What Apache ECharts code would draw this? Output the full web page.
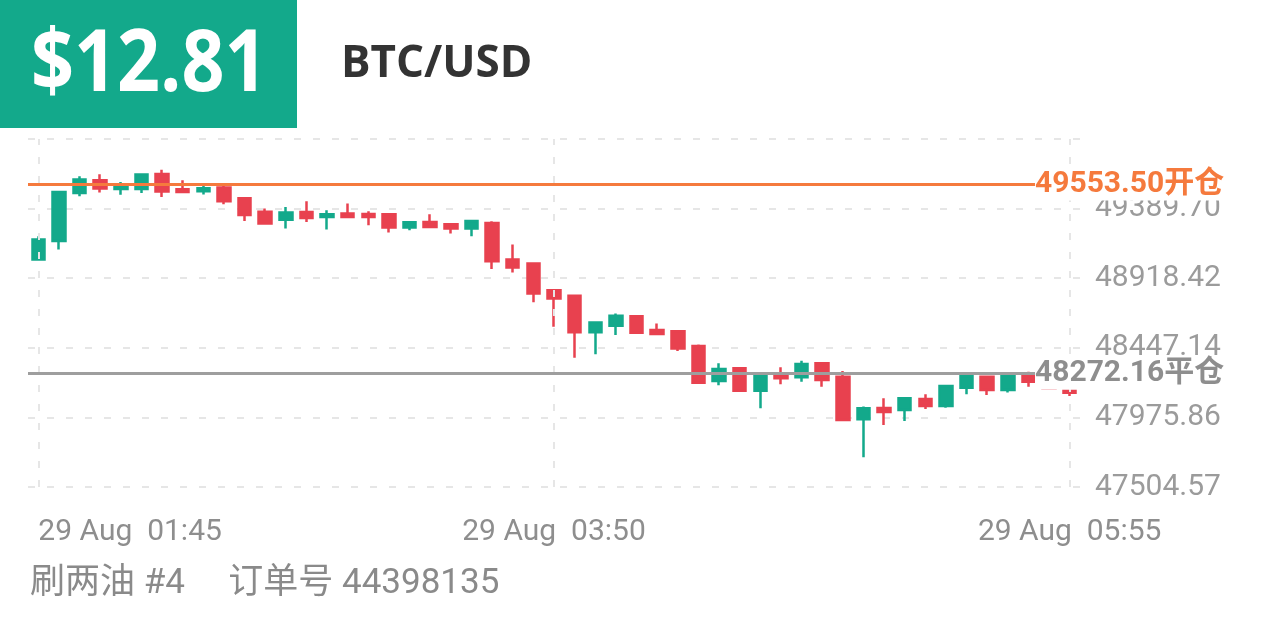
<!DOCTYPE html>
<html>
<head>
<meta charset="utf-8">
<script src="https://cdn.jsdelivr.net/npm/echarts@6/dist/echarts.min.js"></script>
<style>
html,body{margin:0;padding:0;background:#fff;}
#chart{width:1266px;height:633px;}
</style>
</head>
<body>
<div id="chart"></div>
<script>
// ---- data ----
const times = ["01:45","01:50","01:55","02:00","02:05","02:10","02:15","02:20","02:25","02:30",
  "02:35","02:40","02:45","02:50","02:55","03:00","03:05","03:10","03:15","03:20",
  "03:25","03:30","03:35","03:40","03:45","03:50","03:55","04:00","04:05","04:10",
  "04:15","04:20","04:25","04:30","04:35","04:40","04:45","04:50","04:55","05:00",
  "05:05","05:10","05:15","05:20","05:25","05:30","05:35","05:40","05:45","05:50","05:55"];
const dateLabel = "29 Aug";
const opens  = [49045,49171,49495,49581,49522,49522,49624,49520,49507,49532,
  49459,49369,49315,49367,49333,49356,49353,49351,49261,49299,
  49284,49255,49292,49045,49018,48837,48799,48552,48596,48660,
  48567,48560,48459,48222,48308,48157,48270,48247,48342,48251,
  47963,48040,48026,48101,48053,48177,48251,48161,48263,48172,48170];
const closes = [49180,49502,49586,49525,49540,49620,49505,49502,49527,49439,
  49346,49288,49363,49326,49351,49333,49333,49261,49297,49265,
  49255,49306,49033,48991,48815,48781,48552,48619,48664,48549,
  48540,48443,48211,48303,48157,48256,48241,48337,48229,47959,
  48038,48013,48105,48053,48189,48256,48161,48263,48218,48170,48143];
const lows   = [49043,49113,49473,49498,49484,49495,49468,49495,49486,49419,
  49306,49282,49255,49299,49248,49329,49277,49228,49243,49265,
  49221,49202,48981,48957,48756,48589,48380,48403,48533,48545,
  48533,48425,48211,48193,48157,48038,48200,48218,48184,47959,
  47706,47925,47952,48033,48042,48132,48128,48145,48184,48168,48121];
const highs  = [49202,49502,49608,49622,49570,49620,49653,49581,49559,49547,
  49468,49390,49401,49439,49378,49424,49371,49351,49302,49351,
  49292,49311,49304,49146,49018,48840,48804,48623,48680,48660,
  48612,48567,48470,48342,48312,48256,48315,48360,48342,48290,
  48049,48105,48105,48132,48189,48256,48256,48268,48285,48174,48172];
const yTicks = [47504.57, 47975.86, 48447.14, 48918.42, 49389.70, 49860.98];
const yLabels = [47504.57, 47975.86, 48447.14, 48918.42, 49389.70];
const openPrice = 49553.50, openText = "开仓";
const closePrice = 48272.16, closeText = "平仓";
const timeLabelIdx = [0, 25, 50];
const profitText = "$12.81";
const symbolText = "BTC/USD";
const footerText = "刷两油 #4     订单号 44398135";

// ---- build ----
const cats = times.map(t => dateLabel + "  " + t);
const ohlc = opens.map((o, i) => [o, closes[i], lows[i], highs[i]]);
const UP = '#13a98b', DOWN = '#e8414f';
const gridColor = '#e6e6e6';

const markData = [
  ...timeLabelIdx.map(i => ({
    xAxis: cats[i],
    lineStyle: {color: gridColor, type: [7, 12], width: 2},
    label: {show: false}
  })),
  {
    yAxis: openPrice,
    lineStyle: {color: '#f57a3d', width: 3, type: 'solid'},
    label: {show: true, position: 'end', distance: -45, formatter: openPrice.toFixed(2) + openText,
      color: '#f57a3d', fontWeight: 'bold', fontSize: 30, fontFamily: 'Roboto, "Noto Sans CJK SC"',
      backgroundColor: '#fff', padding: [1, 2, 1, 0]}
  },
  {
    yAxis: closePrice,
    lineStyle: {color: '#9e9e9e', width: 3, type: 'solid'},
    label: {show: true, position: 'end', distance: -45, formatter: closePrice.toFixed(2) + closeText,
      color: '#8e8e8e', fontWeight: 'bold', fontSize: 30, fontFamily: 'Roboto, "Noto Sans CJK SC"',
      backgroundColor: '#fff', padding: [1, 2, 1, 0]}
  }
];

const chart = echarts.init(document.getElementById('chart'), null, {renderer: 'canvas'});
chart.setOption({
  animation: false,
  backgroundColor: '#fff',
  grid: {left: 28, right: 186, top: 139, bottom: 146},
  xAxis: {
    type: 'category',
    data: cats,
    boundaryGap: true,
    axisLine: {show: false},
    axisTick: {show: false},
    splitLine: {show: false},
    axisLabel: {
      interval: (i) => timeLabelIdx.indexOf(i) >= 0,
      alignMinLabel: 'left',
      margin: 30,
      color: '#8e8e8e',
      fontSize: 30,
      fontFamily: 'Roboto'
    }
  },
  yAxis: {
    type: 'value',
    position: 'right',
    min: yTicks[0],
    max: yTicks[yTicks.length - 1],
    axisLine: {show: false},
    axisTick: {show: false, customValues: yTicks},
    splitLine: {show: true, lineStyle: {color: gridColor, type: [7, 12], width: 2}},
    axisLabel: {
      customValues: yLabels,
      formatter: v => v.toFixed(2),
      margin: 15,
      color: '#9b9b9b',
      fontSize: 30,
      fontFamily: 'Roboto'
    }
  },
  series: [{
    type: 'candlestick',
    data: ohlc,
    barWidth: 13,
    itemStyle: {color: UP, color0: DOWN, borderColor: UP, borderColor0: DOWN, borderWidth: 2.5},
    markLine: {
      silent: true,
      symbol: 'none',
      animation: false,
      data: markData
    }
  }],
  graphic: [
    {type: 'rect', left: 0, top: 0, shape: {width: 297, height: 128}, style: {fill: '#13a98b'}},
    {type: 'text', x: 31, y: 66, scaleX: 0.875, style: {text: profitText, fill: '#fff', font: 'bold 86px "Open Sans"', textVerticalAlign: 'middle'}},
    {type: 'text', x: 341, y: 64, style: {text: symbolText, fill: '#333', font: 'bold 44px "Open Sans"', textVerticalAlign: 'middle'}},
    {type: 'text', x: 30, y: 584, style: {text: footerText, fill: '#8a8a8a', font: '35px Roboto, "Noto Sans CJK SC"', textVerticalAlign: 'middle'}}
  ]
});
</script>
</body>
</html>
